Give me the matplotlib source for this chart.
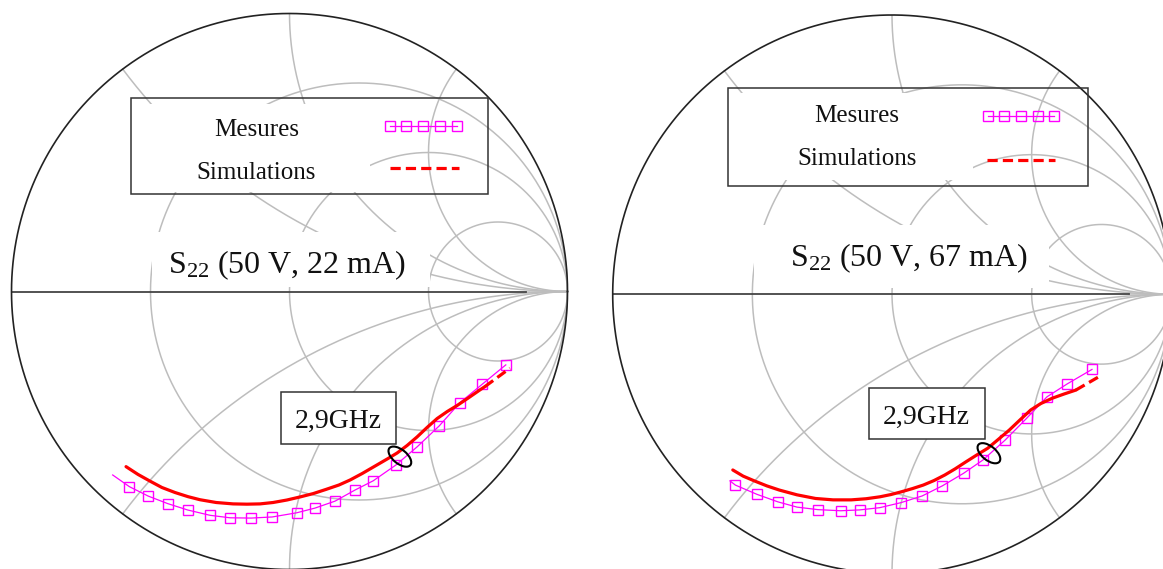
import numpy as np
import matplotlib
matplotlib.use("Agg")
import matplotlib.pyplot as plt
from matplotlib.patches import Rectangle, Ellipse

plt.rcParams['font.family'] = ['Liberation Serif', 'DejaVu Serif']
plt.rcParams['mathtext.fontset'] = 'custom'
plt.rcParams['mathtext.rm'] = 'Liberation Serif'
plt.rcParams['mathtext.it'] = 'Liberation Serif:italic'
plt.rcParams['mathtext.bf'] = 'Liberation Serif:bold'

# ---------------- data (reflection coefficient, Gamma plane) ----------------
titles = ["S$_{22}$ (50 V, 22 mA)", "S$_{22}$ (50 V, 67 mA)"]
legend_labels = ["Mesures", "Simulations"]
freq_label = "2,9GHz"

r_grid = [1/3, 1, 3]
x_grid = [0.5, 1, 2, -0.5, -1, -2]

# 22 mA
meas22_re = [-0.636, -0.576, -0.508, -0.438, -0.366, -0.286, -0.214, -0.138, -0.062,
             0.026, 0.092, 0.164, 0.236, 0.301, 0.383, 0.460, 0.539, 0.613, 0.694, 0.778]
meas22_im = [-0.660, -0.702, -0.736, -0.763, -0.786, -0.805, -0.814, -0.815, -0.811,
             -0.796, -0.779, -0.754, -0.714, -0.681, -0.624, -0.558, -0.483, -0.400, -0.333, -0.264]
sim22_re = [-0.588, -0.545, -0.502, -0.459, -0.412, -0.365, -0.322, -0.264, -0.203,
            -0.153, -0.106, -0.059, -0.009, 0.038, 0.085, 0.131, 0.178, 0.218, 0.261,
            0.311, 0.354, 0.387, 0.423, 0.459, 0.495, 0.531, 0.567, 0.603, 0.646, 0.685,
            0.703, 0.793]
sim22_im = [-0.630, -0.658, -0.682, -0.705, -0.723, -0.738, -0.749, -0.759, -0.764,
            -0.765, -0.764, -0.759, -0.750, -0.739, -0.727, -0.712, -0.696, -0.678, -0.655,
            -0.626, -0.601, -0.581, -0.554, -0.523, -0.489, -0.457, -0.432, -0.410, -0.381,
            -0.354, -0.342, -0.276]
mark22 = (0.397, -0.594)

# 67 mA
meas67_re = [-0.580, -0.561, -0.484, -0.409, -0.340, -0.265, -0.184, -0.116, -0.044,
             0.032, 0.108, 0.180, 0.256, 0.326, 0.405, 0.482, 0.555, 0.627, 0.716]
meas67_im = [-0.668, -0.683, -0.716, -0.743, -0.762, -0.771, -0.775, -0.772, -0.764,
             -0.746, -0.722, -0.686, -0.641, -0.593, -0.522, -0.444, -0.367, -0.321, -0.269]
sim67_re = [-0.570, -0.533, -0.493, -0.448, -0.403, -0.340, -0.274, -0.211, -0.146,
            -0.093, -0.043, -0.004, 0.034, 0.072, 0.112, 0.150, 0.189, 0.226, 0.266,
            0.304, 0.343, 0.380, 0.420, 0.458, 0.497, 0.533, 0.574, 0.616, 0.658, 0.741]
sim67_im = [-0.629, -0.651, -0.668, -0.686, -0.701, -0.718, -0.731, -0.736, -0.736,
            -0.732, -0.725, -0.717, -0.707, -0.696, -0.683, -0.667, -0.647, -0.625, -0.599,
            -0.575, -0.551, -0.520, -0.486, -0.450, -0.414, -0.391, -0.372, -0.357, -0.343,
            -0.295]
mark67 = (0.347, -0.569)

panels = [
    dict(meas=(meas22_re, meas22_im), sim=(sim22_re, sim22_im), mark=mark22,
         pos=(289.5, 291.5, 278.0), title_xy=(287, 273), title_box=(152, 232, 278, 55),
         leg_frame=(130.7, 98.3, 357.0, 95.7), leg_inner=(150, 104, 220, 88),
         leg_text_x=256.5, leg_base=(136, 179),
         leg_meas=(389.6, 456.7, 125.7), leg_sim=(390, 459, 167.7),
         box=(-0.029, -0.549, 0.411, 0.189), box_text=(0.1745, -0.492)),
    dict(meas=(meas67_re, meas67_im), sim=(sim67_re, sim67_im), mark=mark67,
         pos=(892.0, 294.3, 279.3), title_xy=(908.7, 266), title_box=(754, 225, 295, 63),
         leg_frame=(727.5, 88.3, 360.1, 97.4), leg_inner=(740, 93, 233, 87),
         leg_text_x=856.7, leg_base=(121.7, 165),
         leg_meas=(987.8, 1054.2, 115.7), leg_sim=(987, 1055.3, 160),
         box=(-0.084, -0.519, 0.417, 0.185), box_text=(0.121, -0.464)),
]

W, H = 1163, 569
fig = plt.figure(figsize=(W / 100, H / 100), dpi=100)

grid_c = '#bdbdbd'
mag = '#ff00ff'
red = '#ff0000'
dash = (0, (3.2, 1.6))


def draw_grid(ax):
    t = np.linspace(0, 2 * np.pi, 721)
    for r in r_grid:
        c = r / (1 + r)
        rad = 1 / (1 + r)
        ax.plot(c + rad * np.cos(t), rad * np.sin(t), color=grid_c, lw=1.1, zorder=1)
    rr = np.concatenate([[0.0], np.logspace(-3, 4, 900)])
    for x in x_grid:
        z = rr + 1j * x
        g = (z - 1) / (z + 1)
        ax.plot(g.real, g.imag, color=grid_c, lw=1.1, zorder=1)
    ax.plot([0.85, 1], [0, 0], color=grid_c, lw=1.1, zorder=1)
    ax.plot([-1, 0.85], [0, 0], color='#444444', lw=1.3, zorder=2)
    ax.plot(np.cos(t), np.sin(t), color='#222222', lw=1.2, zorder=2, clip_on=False)


for p in panels:
    cx, cy, R = p['pos']
    ax = fig.add_axes([(cx - R) / W, (H - cy - R) / H, 2 * R / W, 2 * R / H])
    ax.set_xlim(-1, 1)
    ax.set_ylim(-1, 1)
    ax.axis('off')
    draw_grid(ax)

    mre, mim = p['meas']
    ax.plot(mre, mim, color=mag, lw=0.9, marker='s', ms=6.8, mfc='none', mec=mag,
            mew=1.0, markevery=list(range(1, len(mre))), zorder=4, clip_on=False)
    sre, sim = p['sim']
    ax.plot(sre[:-1], sim[:-1], color=red, lw=2.3, zorder=5, solid_capstyle='round',
            solid_joinstyle='round')
    ax.plot(sre[-2:], sim[-2:], color=red, lw=2.3, ls=dash, zorder=5)

    ax.add_patch(Ellipse(p['mark'], 27 / R, 14 / R, angle=-39, fill=False,
                         ec='black', lw=1.5, zorder=6))
    bx, by, bw, bh = p['box']
    ax.add_patch(Rectangle((bx, by), bw, bh, fc='white', ec='#333333', lw=1.1, zorder=3))
    ax.text(p['box_text'][0], p['box_text'][1], freq_label, fontsize=20,
            ha='center', va='baseline', color='#111111', zorder=7)

# overlay for layout elements (titles, legends) in pixel coordinates
ov = fig.add_axes([0, 0, 1, 1])
ov.set_xlim(0, W)
ov.set_ylim(H, 0)
ov.axis('off')

for p, title in zip(panels, titles):
    tx, ty, tw, th = p['title_box']
    ov.add_patch(Rectangle((tx, ty), tw, th, fc='white', ec='none', zorder=1))
    ov.text(p['title_xy'][0], p['title_xy'][1], title, fontsize=23,
            ha='center', va='baseline', color='#111111', zorder=3)

    fx, fy, fw, fh = p['leg_frame']
    ix, iy, iw, ih = p['leg_inner']
    ov.add_patch(Rectangle((ix, iy), iw, ih, fc='white', ec='none', zorder=1))
    ov.add_patch(Rectangle((fx, fy), fw, fh, fill=False, ec='#333333', lw=1.1, zorder=3))
    ov.text(p['leg_text_x'], p['leg_base'][0], legend_labels[0], fontsize=18,
            ha='center', va='baseline', color='#111111', zorder=3)
    ov.text(p['leg_text_x'], p['leg_base'][1], legend_labels[1], fontsize=18,
            ha='center', va='baseline', color='#111111', zorder=3)
    x0, x1, yl = p['leg_meas']
    ov.plot(np.linspace(x0, x1, 5), [yl] * 5, color=mag, lw=0.9, marker='s', ms=6.8,
            mfc='none', mec=mag, mew=1.0, zorder=3)
    x0, x1, yl = p['leg_sim']
    ov.plot([x0, x1], [yl, yl], color=red, lw=2.3, ls=dash, zorder=3)

fig.savefig('out.png', dpi=100)
